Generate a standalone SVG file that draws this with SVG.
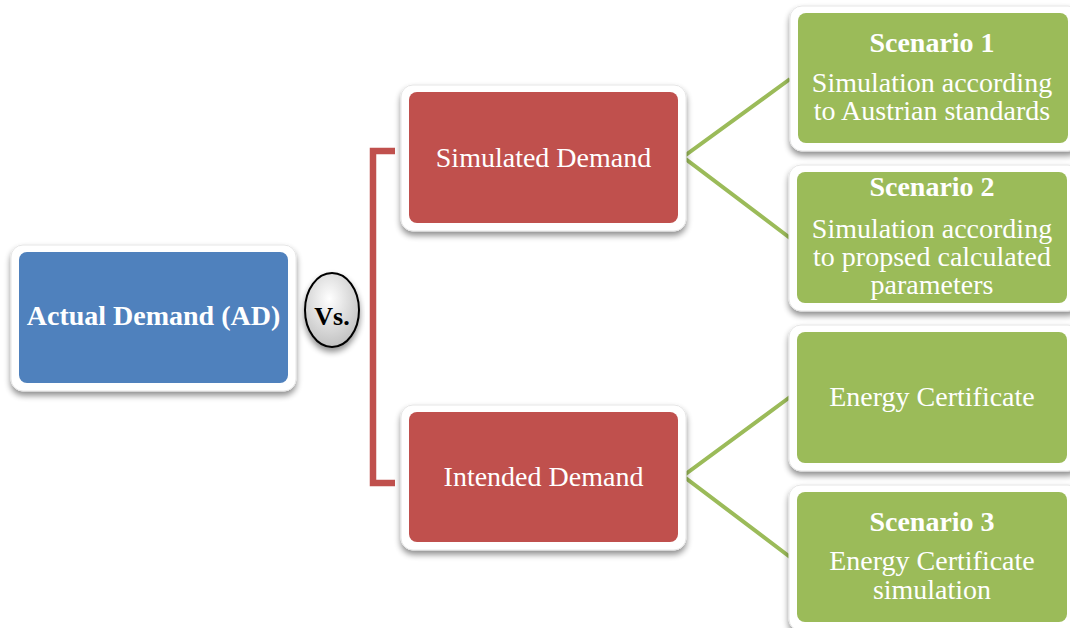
<svg xmlns="http://www.w3.org/2000/svg" width="1070" height="628" viewBox="0 0 1070 628">
<defs>
<filter id="sh" x="-10%" y="-10%" width="120%" height="130%">
<feGaussianBlur in="SourceAlpha" stdDeviation="3"/>
<feOffset dx="0" dy="4" result="b"/>
<feComponentTransfer><feFuncA type="linear" slope="0.45"/></feComponentTransfer>
<feMerge><feMergeNode/><feMergeNode in="SourceGraphic"/></feMerge>
</filter>
<radialGradient id="vsg" cx="45%" cy="35%" r="70%">
<stop offset="0" stop-color="#ffffff"/>
<stop offset="1" stop-color="#bdbdbd"/>
</radialGradient>
<style>
.frame{fill:#ffffff;stroke:#e6e6e6;stroke-width:1}
.blue{fill:#4f81bd}
.red{fill:#c0504d}
.green{fill:#9bbb59}
text{font-family:"Liberation Serif","Times New Roman",serif;fill:#ffffff;text-anchor:middle;font-size:28px}
.b{font-weight:bold}
.gl{fill:none;stroke:#9bbb59;stroke-width:4}
.rl{fill:none;stroke:#c0504d;stroke-width:6.5}
</style>
</defs>
<rect width="1070" height="628" fill="#ffffff"/>
<g id="connectors">
<path class="rl" d="M395,151 H373 V483 H395"/>
<path class="gl" d="M790,79 L683,157 L790,238"/>
<path class="gl" d="M790,397 L683,476 L790,557"/>
</g>
<g id="actual">
<rect class="frame" x="11" y="245" width="285" height="146" rx="12" filter="url(#sh)"/>
<rect class="blue" x="19" y="252" width="269" height="131" rx="8"/>
<text class="b" x="153.5" y="325">Actual Demand (AD)</text>
</g>
<g id="vs">
<ellipse cx="332" cy="310" rx="27" ry="37" fill="url(#vsg)" stroke="#000" stroke-width="2" filter="url(#sh)"/>
<text class="b" x="332" y="325" style="fill:#000;font-size:26px">Vs.</text>
</g>
<g id="simulated">
<rect class="frame" x="401" y="85" width="285" height="146" rx="12" filter="url(#sh)"/>
<rect class="red" x="409" y="92" width="269" height="131" rx="8"/>
<text x="543.5" y="167">Simulated Demand</text>
</g>
<g id="intended">
<rect class="frame" x="401" y="405" width="285" height="145" rx="12" filter="url(#sh)"/>
<rect class="red" x="409" y="412" width="269" height="130" rx="8"/>
<text x="543.5" y="486">Intended Demand</text>
</g>
<g id="scenario1">
<rect class="frame" x="790" y="6" width="290" height="145" rx="12" filter="url(#sh)"/>
<rect class="green" x="798" y="13" width="270" height="130" rx="8"/>
<text class="b" x="932" y="52">Scenario 1</text>
<text x="932" y="92">Simulation according</text>
<text x="932" y="120">to Austrian standards</text>
</g>
<g id="scenario2">
<rect class="frame" x="789" y="165" width="291" height="146" rx="12" filter="url(#sh)"/>
<rect class="green" x="797" y="172" width="270" height="131" rx="8"/>
<text class="b" x="932" y="196">Scenario 2</text>
<text x="932" y="238">Simulation according</text>
<text x="932" y="266">to propsed calculated</text>
<text x="932" y="294">parameters</text>
</g>
<g id="energy">
<rect class="frame" x="789" y="325" width="291" height="146" rx="12" filter="url(#sh)"/>
<rect class="green" x="797" y="332" width="270" height="131" rx="8"/>
<text x="932" y="406">Energy Certificate</text>
</g>
<g id="scenario3">
<rect class="frame" x="789" y="485" width="291" height="146" rx="12" filter="url(#sh)"/>
<rect class="green" x="797" y="492" width="270" height="130" rx="8"/>
<text class="b" x="932" y="531">Scenario 3</text>
<text x="932" y="570">Energy Certificate</text>
<text x="932" y="599">simulation</text>
</g>
</svg>
